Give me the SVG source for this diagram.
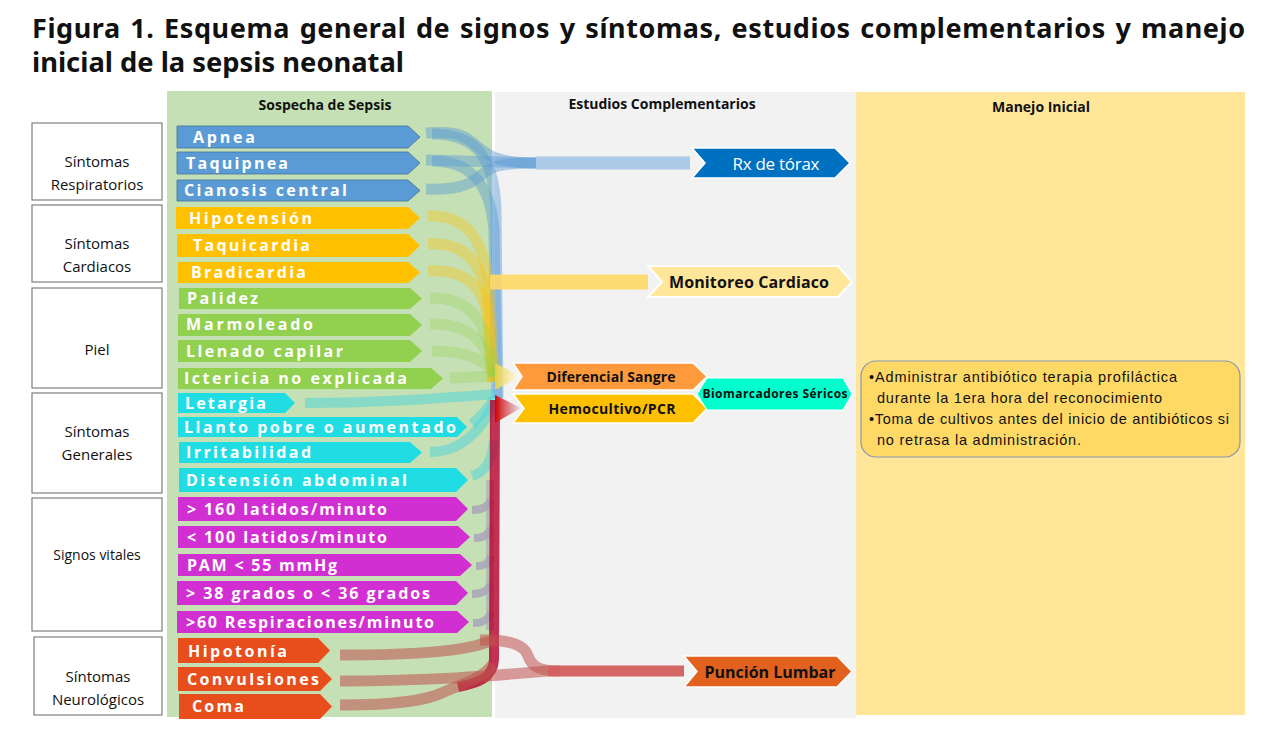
<svg xmlns="http://www.w3.org/2000/svg" width="1280" height="733" viewBox="0 0 1280 733">
<defs>
<style>
.title{font-family:"Noto Sans","Open Sans",sans-serif;font-weight:bold;font-size:27px;fill:#111}
.hdr{font-family:"Open Sans","Liberation Sans",sans-serif;font-weight:bold;font-size:14px;fill:#111;text-anchor:middle}
.cat{fill:#fff;stroke:#7f7f7f;stroke-width:1.2}
.catt{font-family:"Open Sans","Liberation Sans",sans-serif;font-size:15px;fill:#111;text-anchor:middle}
.sym{font-family:"Open Sans","Liberation Sans",sans-serif;font-weight:bold;font-size:16px;fill:#fff}
.blue{fill:#5b9bd5;stroke:#41719c;stroke-width:0.8}
.yel{fill:#ffc000}
.grn{fill:#92d050}
.cyn{fill:#20dde3}
.mag{fill:#d22fd3}
.org{fill:#e84e1b}
.lbl{font-family:"Open Sans","Liberation Sans",sans-serif;font-weight:bold;fill:#111;text-anchor:middle}
.band{fill:none;stroke-linecap:butt}
.rt{font-family:"Liberation Sans",Arial,sans-serif;font-size:14.5px;fill:#111}
</style>
<linearGradient id="gDif" x1="0" y1="0" x2="1" y2="0">
<stop offset="0" stop-color="#e8d040" stop-opacity="0.9"/>
<stop offset="1" stop-color="#ffffff" stop-opacity="0.9"/>
</linearGradient>
<linearGradient id="gHem" x1="0" y1="0" x2="1" y2="0">
<stop offset="0" stop-color="#d00000" stop-opacity="0.95"/>
<stop offset="1" stop-color="#e6e6f0" stop-opacity="0.9"/>
</linearGradient>
</defs>
<rect width="1280" height="733" fill="#fff"/>

<g id="title">
<text class="title" x="32" y="38" textLength="1213" lengthAdjust="spacing" word-spacing="2">Figura 1. Esquema general de signos y síntomas, estudios complementarios y manejo</text>
<text class="title" x="32" y="72" textLength="372" lengthAdjust="spacingAndGlyphs">inicial de la sepsis neonatal</text>
</g>

<g id="panels">
<rect x="167" y="91" width="325" height="626" fill="#c5e0b4"/>
<rect x="495" y="92" width="361" height="626" fill="#f2f2f2"/>
<rect x="856" y="92" width="389" height="623" fill="#ffe699"/>
<text class="hdr" x="325" y="110">Sospecha de Sepsis</text>
<text class="hdr" x="662" y="109">Estudios Complementarios</text>
<text class="hdr" x="1041" y="112">Manejo Inicial</text>
</g>

<g id="categories">
<g id="cat-resp"><rect class="cat" x="32" y="123" width="130" height="77"/><text class="catt" x="97" y="167">Síntomas</text><text class="catt" x="97" y="190">Respiratorios</text></g>
<g id="cat-card"><rect class="cat" x="32" y="205" width="130" height="77"/><text class="catt" x="97" y="249">Síntomas</text><text class="catt" x="97" y="272">Cardiacos</text></g>
<g id="cat-piel"><rect class="cat" x="32" y="288" width="130" height="100"/><text class="catt" x="97" y="355">Piel</text></g>
<g id="cat-gen"><rect class="cat" x="32" y="393" width="130" height="100"/><text class="catt" x="97" y="437">Síntomas</text><text class="catt" x="97" y="460">Generales</text></g>
<g id="cat-vit"><rect class="cat" x="32" y="498" width="130" height="133"/><text class="catt" x="97" y="560" style="font-size:14px">Signos vitales</text></g>
<g id="cat-neu"><rect class="cat" x="34" y="637" width="128" height="78"/><text class="catt" x="98" y="682">Síntomas</text><text class="catt" x="98" y="705">Neurológicos</text></g>
</g>

<g id="connectors">
<g stroke="#5b9bd5" stroke-opacity="0.45" stroke-width="11" class="band">
<path class="band" d="M426,133 C452,131 462,134 472,142 C486,154 494,163 536,163"/>
<path class="band" d="M426,160 L536,163"/>
<path class="band" d="M426,189 C455,190 468,186 480,176 C492,166 500,163 536,163"/>
<path class="band" d="M432,134 C470,134 494,150 496,210 L498,398"/>
<path class="band" d="M432,161 C468,161 490,180 494,230 L497,398"/>
</g>
<path class="band" d="M536,163 L690,163" stroke="#9dc3e6" stroke-opacity="0.85" stroke-width="13"/>
<g stroke="#ffc000" stroke-opacity="0.35" stroke-width="11" class="band">
<path class="band" d="M428,216 C468,214 486,240 490,300 L494,382"/>
<path class="band" d="M428,244 C466,242 484,262 488,310 L493,382"/>
<path class="band" d="M428,271 C466,269 484,286 488,320 L492,382"/>
</g>
<path class="band" d="M490,282 L648,282" stroke="#ffd966" stroke-opacity="0.9" stroke-width="15"/>
<g stroke="#92d050" stroke-opacity="0.3" stroke-width="11" class="band">
<path class="band" d="M430,298 C470,297 488,320 494,376"/>
<path class="band" d="M430,324 C468,323 488,340 494,376"/>
<path class="band" d="M432,351 C470,351 488,362 494,376"/>
<path class="band" d="M450,378 L495,376"/>
</g>
<g stroke="#4cd4dc" stroke-opacity="0.5" stroke-width="10" class="band">
<path class="band" d="M305,403 C380,403 440,398 495,394"/>
<path class="band" d="M472,424 C482,415 488,408 495,398"/>
<path class="band" d="M430,452 C460,452 482,432 495,400"/>
<path class="band" d="M472,476 C484,472 492,464 494,440"/>
</g>
<g stroke="#a8a4b8" stroke-opacity="0.85" stroke-width="8" class="band">
<path class="band" d="M472,510 C482,510 488,507 491,500"/>
<path class="band" d="M474,538 C484,538 488,535 491,528"/>
<path class="band" d="M476,566 C486,566 489,563 491,556"/>
<path class="band" d="M472,594 C482,594 488,591 491,584"/>
<path class="band" d="M473,623 C483,623 488,620 491,613"/>
<path class="band" d="M490,480 L490,630" stroke-opacity="0.6"/>
</g>
<path class="band" d="M495,400 L494,660 C493,678 478,683 458,687" stroke="#b5002a" stroke-opacity="0.8" stroke-width="10"/>
<g stroke="#c0504d" stroke-opacity="0.55" stroke-width="11" class="band">
<path class="band" d="M340,655 C420,655 468,651 493,640"/>
<path class="band" d="M340,681 C430,681 490,676 548,671"/>
<path class="band" d="M340,705 C400,705 428,700 444,692 C460,684 480,681 493,664"/>
<path class="band" d="M480,640 C510,639 525,646 528,656 C532,667 540,671 560,671"/>
</g>
<path class="band" d="M548,671 L684,671" stroke="#d35e5e" stroke-opacity="0.95" stroke-width="11"/>
<polygon points="495,363 521,376 495,390" fill="url(#gDif)"/>
<polygon points="495,395 521,408 495,423" fill="url(#gHem)"/>
</g>

<g id="symptoms">
<g id="s-apnea"><path class="blue" d="M177,126 H408 L420,137 L408,148 H177 Z"/><text class="sym" x="193" y="143" textLength="62">Apnea</text></g>
<g id="s-taquipnea"><path class="blue" d="M177,152 H408 L420,163 L408,174 H177 Z"/><text class="sym" x="186" y="169" textLength="102">Taquipnea</text></g>
<g id="s-cianosis"><path class="blue" d="M177,180 H408 L420,190.5 L408,201 H177 Z"/><text class="sym" x="184" y="196" textLength="163">Cianosis central</text></g>
<g id="s-hipotension"><path class="yel" d="M176,207 H408 L420,218 L408,229 H176 Z"/><text class="sym" x="189" y="224" textLength="123">Hipotensión</text></g>
<g id="s-taquicardia"><path class="yel" d="M177,234 H408 L420,245.5 L408,257 H177 Z"/><text class="sym" x="193" y="251" textLength="117">Taquicardia</text></g>
<g id="s-bradicardia"><path class="yel" d="M178,262 H408 L420,272.5 L408,283 H178 Z"/><text class="sym" x="191" y="278" textLength="115">Bradicardia</text></g>
<g id="s-palidez"><path class="grn" d="M179,288 H410 L422,298.5 L410,309 H179 Z"/><text class="sym" x="187" y="304" textLength="71">Palidez</text></g>
<g id="s-marmoleado"><path class="grn" d="M178,314 H410 L422,325 L410,336 H178 Z"/><text class="sym" x="186" y="330" textLength="127">Marmoleado</text></g>
<g id="s-llenado"><path class="grn" d="M178,340 H410 L422,351 L410,362 H178 Z"/><text class="sym" x="186" y="357" textLength="157">Llenado capilar</text></g>
<g id="s-ictericia"><path class="grn" d="M178,368 H431 L443,378.5 L431,389 H178 Z"/><text class="sym" x="184" y="384" textLength="223">Ictericia no explicada</text></g>
<g id="s-letargia"><path class="cyn" d="M178,393 H285 L295,403 L285,413 H178 Z"/><text class="sym" x="185" y="409" textLength="81">Letargia</text></g>
<g id="s-llanto"><path class="cyn" d="M178,417 H457 L467,427 L457,437 H178 Z"/><text class="sym" x="184" y="433" textLength="272">Llanto pobre o aumentado</text></g>
<g id="s-irritabilidad"><path class="cyn" d="M179,442 H410 L422,452.5 L410,463 H179 Z"/><text class="sym" x="186" y="458" textLength="125">Irritabilidad</text></g>
<g id="s-distension"><path class="cyn" d="M179,468 H456 L468,480 L456,492 H179 Z"/><text class="sym" x="186" y="486" textLength="221">Distensión abdominal</text></g>
<g id="s-160"><path class="mag" d="M178,497 H456 L468,509 L456,521 H178 Z"/><text class="sym" x="187" y="515" textLength="200">&gt; 160 latidos/minuto</text></g>
<g id="s-100"><path class="mag" d="M178,526 H458 L470,537 L458,548 H178 Z"/><text class="sym" x="187" y="543" textLength="200">&lt; 100 latidos/minuto</text></g>
<g id="s-pam"><path class="mag" d="M178,554 H460 L472,565 L460,576 H178 Z"/><text class="sym" x="187" y="571" textLength="150">PAM &lt; 55 mmHg</text></g>
<g id="s-temp"><path class="mag" d="M177,581 H456 L468,593 L456,605 H177 Z"/><text class="sym" x="186" y="599" textLength="244">&gt; 38 grados o &lt; 36 grados</text></g>
<g id="s-resp"><path class="mag" d="M177,611 H457 L469,622 L457,633 H177 Z"/><text class="sym" x="186" y="628" textLength="248">&gt;60 Respiraciones/minuto</text></g>
<g id="s-hipotonia"><path class="org" d="M178,638 H318 L330,650.5 L318,663 H178 Z"/><text class="sym" x="188" y="657" textLength="99">Hipotonía</text></g>
<g id="s-convulsiones"><path class="org" d="M178,667 H320 L332,679 L320,691 H178 Z"/><text class="sym" x="187" y="685" textLength="132">Convulsiones</text></g>
<g id="s-coma"><path class="org" d="M179,694 H320 L332,706.5 L320,719 H179 Z"/><text class="sym" x="192" y="712" textLength="52">Coma</text></g>
</g>

<g id="studies">
<g id="n-rx"><polygon points="692,148 835,148 850,163 835,178 692,178 705,163" fill="#0070c0" stroke="#fff" stroke-width="1.5"/><text x="776" y="170" style="font-family:'Open Sans','Liberation Sans',sans-serif;font-size:17px;fill:#fff;text-anchor:middle" textLength="87">Rx de tórax</text></g>
<g id="n-mon"><polygon points="648,266 838,266 852,282 838,297 648,297 662,282" fill="#ffe699" stroke="#fff" stroke-width="2"/><text class="lbl" x="749" y="288" style="font-size:16px" textLength="160">Monitoreo Cardiaco</text></g>
<g id="n-dif"><polygon points="513,363 693,363 707,376.5 693,390 513,390 522,376.5" fill="#ff9a3c" stroke="#fff" stroke-width="1.5"/><text class="lbl" x="611" y="382" style="font-size:14px" textLength="129">Diferencial Sangre</text></g>
<g id="n-hem"><polygon points="513,394 693,394 707,408.5 693,423 513,423 524,408.5" fill="#ffc000" stroke="#fff" stroke-width="1.5"/><text class="lbl" x="612" y="414" style="font-size:14px" textLength="127">Hemocultivo/PCR</text></g>
<g id="n-bio"><polygon points="697,394 707,378 843,378 852,394 843,410 707,410" fill="#00ffcc" stroke="#fff" stroke-width="1"/><text class="lbl" x="775" y="398" style="font-size:12px" textLength="145">Biomarcadores Séricos</text></g>
<g id="n-pl"><polygon points="684,656 837,656 852,671.5 837,687 684,687 697,671.5" fill="#e2611f" stroke="#fff" stroke-width="1.5"/><text class="lbl" x="770" y="678" style="font-size:16px" textLength="131">Punción Lumbar</text></g>
</g>

<g id="management">
<rect x="861" y="361" width="379" height="96" rx="15" fill="#ffd966" stroke="#8497b0" stroke-width="1.2"/>
<text class="rt" x="869" y="382" textLength="308">•Administrar antibiótico terapia profiláctica</text>
<text class="rt" x="877" y="403" textLength="285">durante la 1era hora del reconocimiento</text>
<text class="rt" x="869" y="424" textLength="360">•Toma de cultivos antes del inicio de antibióticos si</text>
<text class="rt" x="877" y="445" textLength="204">no retrasa la administración.</text>
</g>
</svg>
